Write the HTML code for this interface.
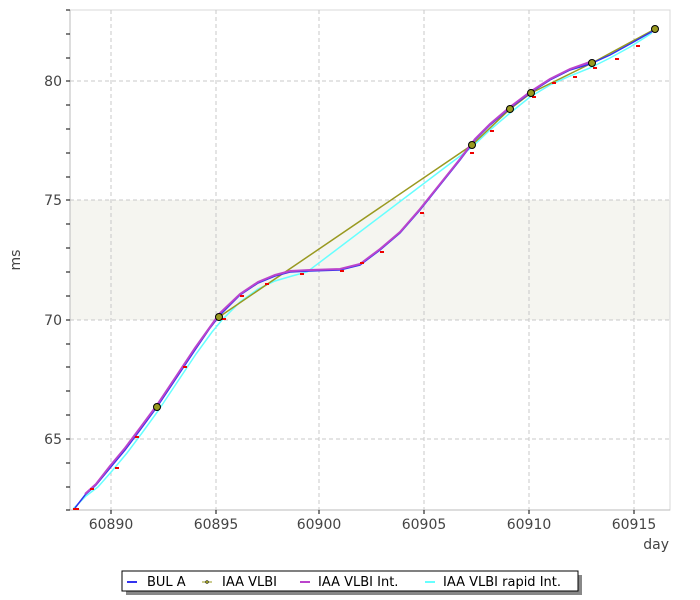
<!DOCTYPE html>
<html><head><meta charset="utf-8"><style>
body{margin:0;background:#fff;}
svg{display:block;font-family:"DejaVu Sans","Liberation Sans",sans-serif;}
</style></head><body>
<svg width="700" height="600" viewBox="0 0 700 600">
<rect x="70" y="200" width="600" height="120" fill="#f5f5f0"/>
<rect x="70" y="10" width="600" height="500" fill="none" stroke="#d8d8d8"/>
<g stroke="#c8c8c8" stroke-dasharray="4,3" stroke-width="1">
<line x1="111" y1="10" x2="111" y2="510"/><line x1="216" y1="10" x2="216" y2="510"/>
<line x1="319" y1="10" x2="319" y2="510"/><line x1="424" y1="10" x2="424" y2="510"/>
<line x1="529" y1="10" x2="529" y2="510"/><line x1="634" y1="10" x2="634" y2="510"/>
<line x1="70" y1="81" x2="670" y2="81"/><line x1="70" y1="200" x2="670" y2="200"/>
<line x1="70" y1="320" x2="670" y2="320"/><line x1="70" y1="439" x2="670" y2="439"/>
</g>
<line x1="70" y1="10" x2="70" y2="510" stroke="#bbb"/>
<line x1="70" y1="510" x2="670" y2="510" stroke="#bbb"/>
<g stroke="#000">
<line x1="66" y1="10" x2="70" y2="10"/><line x1="66" y1="34" x2="70" y2="34"/><line x1="66" y1="58" x2="70" y2="58"/><line x1="66" y1="81" x2="70" y2="81"/>
<line x1="66" y1="105" x2="70" y2="105"/><line x1="66" y1="129" x2="70" y2="129"/><line x1="66" y1="153" x2="70" y2="153"/><line x1="66" y1="177" x2="70" y2="177"/>
<line x1="66" y1="200" x2="70" y2="200"/><line x1="66" y1="224" x2="70" y2="224"/><line x1="66" y1="248" x2="70" y2="248"/><line x1="66" y1="272" x2="70" y2="272"/>
<line x1="66" y1="296" x2="70" y2="296"/><line x1="66" y1="320" x2="70" y2="320"/><line x1="66" y1="344" x2="70" y2="344"/><line x1="66" y1="367" x2="70" y2="367"/>
<line x1="66" y1="391" x2="70" y2="391"/><line x1="66" y1="415" x2="70" y2="415"/><line x1="66" y1="439" x2="70" y2="439"/><line x1="66" y1="463" x2="70" y2="463"/>
<line x1="66" y1="487" x2="70" y2="487"/><line x1="66" y1="510" x2="70" y2="510"/>
<line x1="111" y1="510" x2="111" y2="514"/><line x1="216" y1="510" x2="216" y2="514"/><line x1="319" y1="510" x2="319" y2="514"/>
<line x1="424" y1="510" x2="424" y2="514"/><line x1="529" y1="510" x2="529" y2="514"/><line x1="634" y1="510" x2="634" y2="514"/>
</g>
<g fill="#444" font-size="14">
<text x="62" y="86" text-anchor="end">80</text><text x="62" y="205" text-anchor="end">75</text>
<text x="62" y="325" text-anchor="end">70</text><text x="62" y="444" text-anchor="end">65</text>
<text x="111" y="529" text-anchor="middle">60890</text><text x="216" y="529" text-anchor="middle">60895</text>
<text x="319" y="529" text-anchor="middle">60900</text><text x="424" y="529" text-anchor="middle">60905</text>
<text x="529" y="529" text-anchor="middle">60910</text><text x="634" y="529" text-anchor="middle">60915</text>
<text x="669" y="549" text-anchor="end">day</text>
<text transform="translate(20,260) rotate(-90)" text-anchor="middle">ms</text>
</g>
<polyline fill="none" stroke="#66ffff" stroke-width="1.5" points="73,509 86,496 98,487 112,471 127,453 142,433 158,411 176,384 196,354 212,332 222,320 240,302 258,289 275,281 292,276 307,272 472,147 490,130 510,113 530,97 550,85 570,76 590,68 610,58 630,47 652,33"/>
<polyline fill="none" stroke="#999920" stroke-width="1.5" points="219,317 472,145 510,109 531,93 592,63 655,29"/>
<polyline fill="none" stroke="#3333ee" stroke-width="1.5" points="75,508 85,495 96,485 110,468 125,450 140,430 157,407 175,380 195,350 210,328 220,315 240,295 258,283 275,276 290,272 310,271 340,270 360,265 380,250 400,233 420,210 440,185 460,160 475,140 490,125 510,108 530,93 550,80 570,70 590,64 610,55 630,44 653,31"/>
<polyline fill="none" stroke="#bb44cc" stroke-width="2" points="85,494 96,484 110,466 125,448 140,428 157,405 175,378 195,348 210,327 220,313 240,294 258,282 275,275 290,271 310,270 340,269 360,264 380,249 400,232 420,209 440,184 460,159 475,139 490,124 510,107 530,92 550,79 570,69 590,62"/>
<g fill="#e00">
<rect x="73" y="508" width="6" height="2"/><rect x="90" y="488" width="4" height="2"/><rect x="115" y="467" width="4" height="2"/>
<rect x="135" y="436" width="4" height="2"/><rect x="183" y="366" width="4" height="2"/><rect x="222" y="318" width="4" height="2"/>
<rect x="240" y="295" width="4" height="2"/><rect x="265" y="283" width="4" height="2"/><rect x="300" y="273" width="4" height="2"/>
<rect x="340" y="270" width="4" height="2"/><rect x="360" y="262" width="4" height="2"/><rect x="380" y="251" width="4" height="2"/>
<rect x="420" y="212" width="4" height="2"/><rect x="470" y="152" width="4" height="2"/><rect x="490" y="130" width="4" height="2"/>
<rect x="532" y="96" width="4" height="2"/><rect x="552" y="82" width="4" height="2"/><rect x="573" y="76" width="4" height="2"/>
<rect x="593" y="67" width="4" height="2"/><rect x="615" y="58" width="4" height="2"/><rect x="636" y="45" width="4" height="2"/>
</g>
<g fill="#999920" stroke="#000" stroke-width="1">
<circle cx="157" cy="407" r="3.5"/><circle cx="219" cy="317" r="3.5"/><circle cx="472" cy="145" r="3.5"/>
<circle cx="510" cy="109" r="3.5"/><circle cx="531" cy="93" r="3.5"/><circle cx="592" cy="63" r="3.5"/><circle cx="655" cy="29" r="3.5"/>
</g>
<rect x="126" y="575" width="456" height="20" fill="#888"/>
<rect x="122" y="571" width="456" height="20" fill="#fff" stroke="#000"/>
<g font-size="13" fill="#000">
<line x1="127" y1="582" x2="137" y2="582" stroke="#3333ee" stroke-width="2"/><text x="147" y="586">BUL A</text>
<line x1="202" y1="582" x2="212" y2="582" stroke="#999920"/><circle cx="207" cy="582" r="1.5" fill="#999920" stroke="#000" stroke-width=".5"/><text x="222" y="586">IAA VLBI</text>
<line x1="300" y1="582" x2="310" y2="582" stroke="#bb44cc" stroke-width="2"/><text x="318" y="586">IAA VLBI Int.</text>
<line x1="425" y1="582" x2="435" y2="582" stroke="#66ffff" stroke-width="2"/><text x="443" y="586">IAA VLBI rapid Int.</text>
</g>
</svg>
</body></html>
